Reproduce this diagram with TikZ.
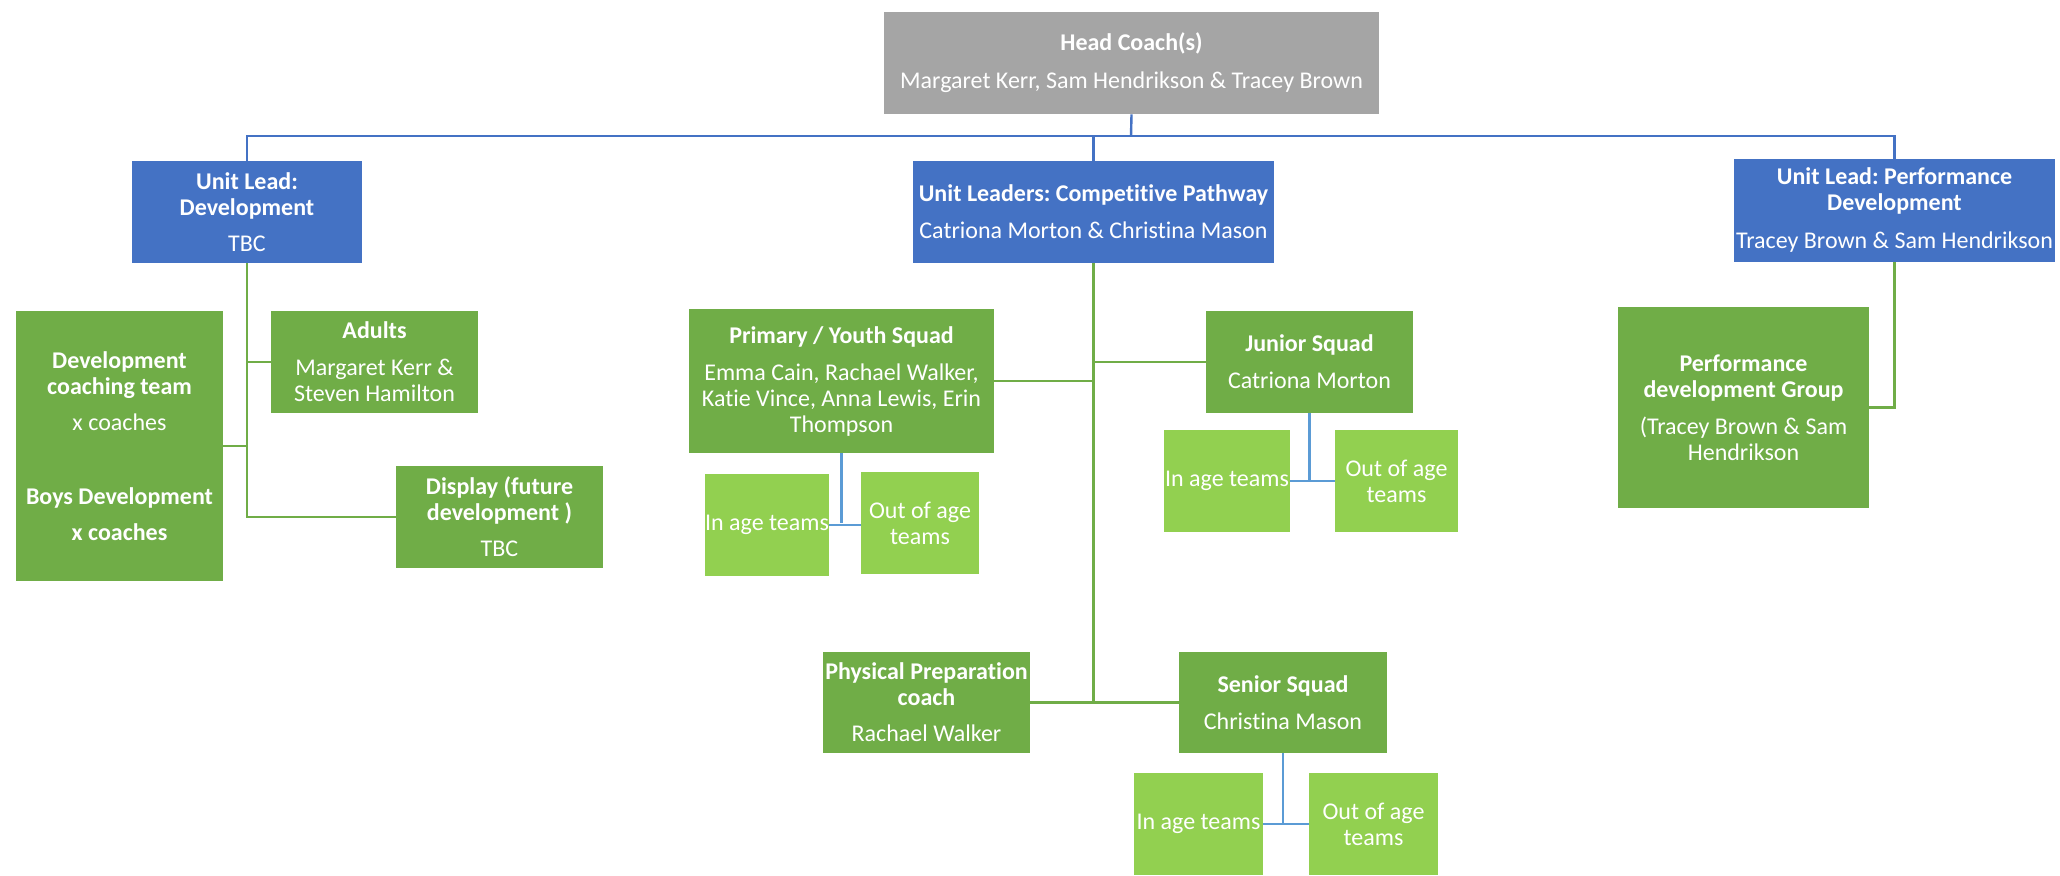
\documentclass[tikz,border=0pt]{standalone}
\usepackage{fontspec}
\setmainfont{Carlito}[Ligatures=NoCommon]
\frenchspacing
\definecolor{cgray}{HTML}{A5A5A5}
\definecolor{cblue}{HTML}{4472C4}
\definecolor{cgreen}{HTML}{70AD47}
\definecolor{clight}{HTML}{92D050}
\definecolor{cline}{HTML}{5B9BD5}
\begin{document}
\begin{tikzpicture}[x=0.5pt,y=-0.5pt,
  box/.style={draw=none,text=white,align=center,inner sep=0pt,font=\fontsize{12}{13}\selectfont\frenchspacing},
  graybox/.style={box,fill=cgray},
  bluebox/.style={box,fill=cblue},
  greenbox/.style={box,fill=cgreen},
  lightbox/.style={box,fill=clight},
  topline/.style={draw=cblue,line width=1.2pt},
  grline/.style={draw=cgreen,line width=1.2pt},
  subline/.style={draw=cline,line width=1.2pt}]
\useasboundingbox (0,0) rectangle (2060,875);
% top level
\node[graybox,minimum width=247.5pt,minimum height=51pt] (head) at (1131.5,63) {\textbf{Head Coach(s)}\\[6pt]Margaret Kerr, Sam Hendrikson \& Tracey Brown};
\node[bluebox,minimum width=115pt,minimum height=51pt] (udev) at (247,212) {\textbf{Unit Lead:}\\\textbf{Development}\\[5pt]TBC};
\node[bluebox,minimum width=180.5pt,minimum height=51pt] (ucomp) at (1093.5,212) {\textbf{Unit Leaders: Competitive Pathway}\\[5.5pt]Catriona Morton \& Christina Mason};
\node[bluebox,minimum width=160.5pt,minimum height=51.5pt] (uperf) at (1894.5,210.5) {\textbf{Unit Lead: Performance}\\\textbf{Development}\\[6pt]Tracey Brown \& Sam Hendrikson};
% development
\node[greenbox,minimum width=103.5pt,minimum height=135pt] (devteam) at (119.5,446) {\textbf{Development}\\\textbf{coaching team}\\[5pt]x coaches\\[24pt]\textbf{Boys Development}\\[5pt]\textbf{x coaches}};
\node[greenbox,minimum width=103.5pt,minimum height=51pt] (adults) at (374.5,362) {\textbf{Adults}\\[5.5pt]Margaret Kerr \&\\Steven Hamilton};
\node[greenbox,minimum width=103.5pt,minimum height=51pt] (display) at (499.5,517) {\textbf{Display (future}\\\textbf{development )}\\[5pt]TBC};
% competitive
\node[greenbox,minimum width=152.5pt,minimum height=72pt] (primary) at (841.5,381) {\textbf{Primary / Youth Squad}\\[5.5pt]Emma Cain, Rachael Walker,\\Katie Vince, Anna Lewis, Erin\\Thompson};
\node[lightbox,minimum width=62pt,minimum height=51pt] (pia) at (767,525) {In age teams};
\node[lightbox,minimum width=59pt,minimum height=51pt] (poa) at (920,523) {Out of age\\teams};
\node[greenbox,minimum width=103.5pt,minimum height=51pt] (junior) at (1309.5,362) {\textbf{Junior Squad}\\[5.5pt]Catriona Morton};
\node[lightbox,minimum width=63pt,minimum height=51pt] (jia) at (1227,481) {In age teams};
\node[lightbox,minimum width=61.5pt,minimum height=51pt] (joa) at (1396.5,481) {Out of age\\teams};
\node[greenbox,minimum width=103.5pt,minimum height=50.5pt] (phys) at (926.5,702.5) {\textbf{Physical Preparation}\\\textbf{coach}\\[5pt]Rachael Walker};
\node[greenbox,minimum width=104pt,minimum height=50.5pt] (senior) at (1283,702.5) {\textbf{Senior Squad}\\[5.5pt]Christina Mason};
\node[lightbox,minimum width=64.5pt,minimum height=51pt] (sia) at (1198.5,824) {In age teams};
\node[lightbox,minimum width=64.5pt,minimum height=51pt] (soa) at (1373.5,824) {Out of age\\teams};
% performance
\node[greenbox,minimum width=125.5pt,minimum height=100.5pt] (perfgrp) at (1743.5,407.5) {\textbf{Performance}\\\textbf{development Group}\\[5.5pt](Tracey Brown \& Sam\\Hendrikson};
% top connectors
\coordinate (hb) at (1131,136);
\draw[topline] (head.south) -- (hb);
\draw[topline] (udev.north) |- (hb);
\draw[topline] (uperf.north) |- (hb);
\draw[topline] (ucomp.north) -- (ucomp.north |- hb);
% development connectors
\draw[grline] (udev.south) |- (display.west);
\draw[grline] (udev.south |- adults.west) -- (adults.west);
\draw[grline] (udev.south |- devteam.east) -- (devteam.east);
% competitive connectors
\draw[grline] (ucomp.south) -- (ucomp.south |- phys.east);
\draw[grline] (phys.east) -- (senior.west);
\draw[grline] (primary.east) -- (ucomp.south |- primary.east);
\draw[grline] (junior.west) -- (ucomp.south |- junior.west);
% performance connector
\draw[grline] (uperf.south) |- (perfgrp.east);
% sub team connectors
\draw[subline] (primary.south) -- (primary.south |- poa.west);
\draw[subline] (pia.east) -- (pia.east -| poa.west);
\draw[subline] (junior.south) -- (junior.south |- joa.west);
\draw[subline] (jia.east) -- (joa.west);
\draw[subline] (senior.south) -- (senior.south |- soa.west);
\draw[subline] (sia.east) -- (soa.west);
\end{tikzpicture}
\end{document}
